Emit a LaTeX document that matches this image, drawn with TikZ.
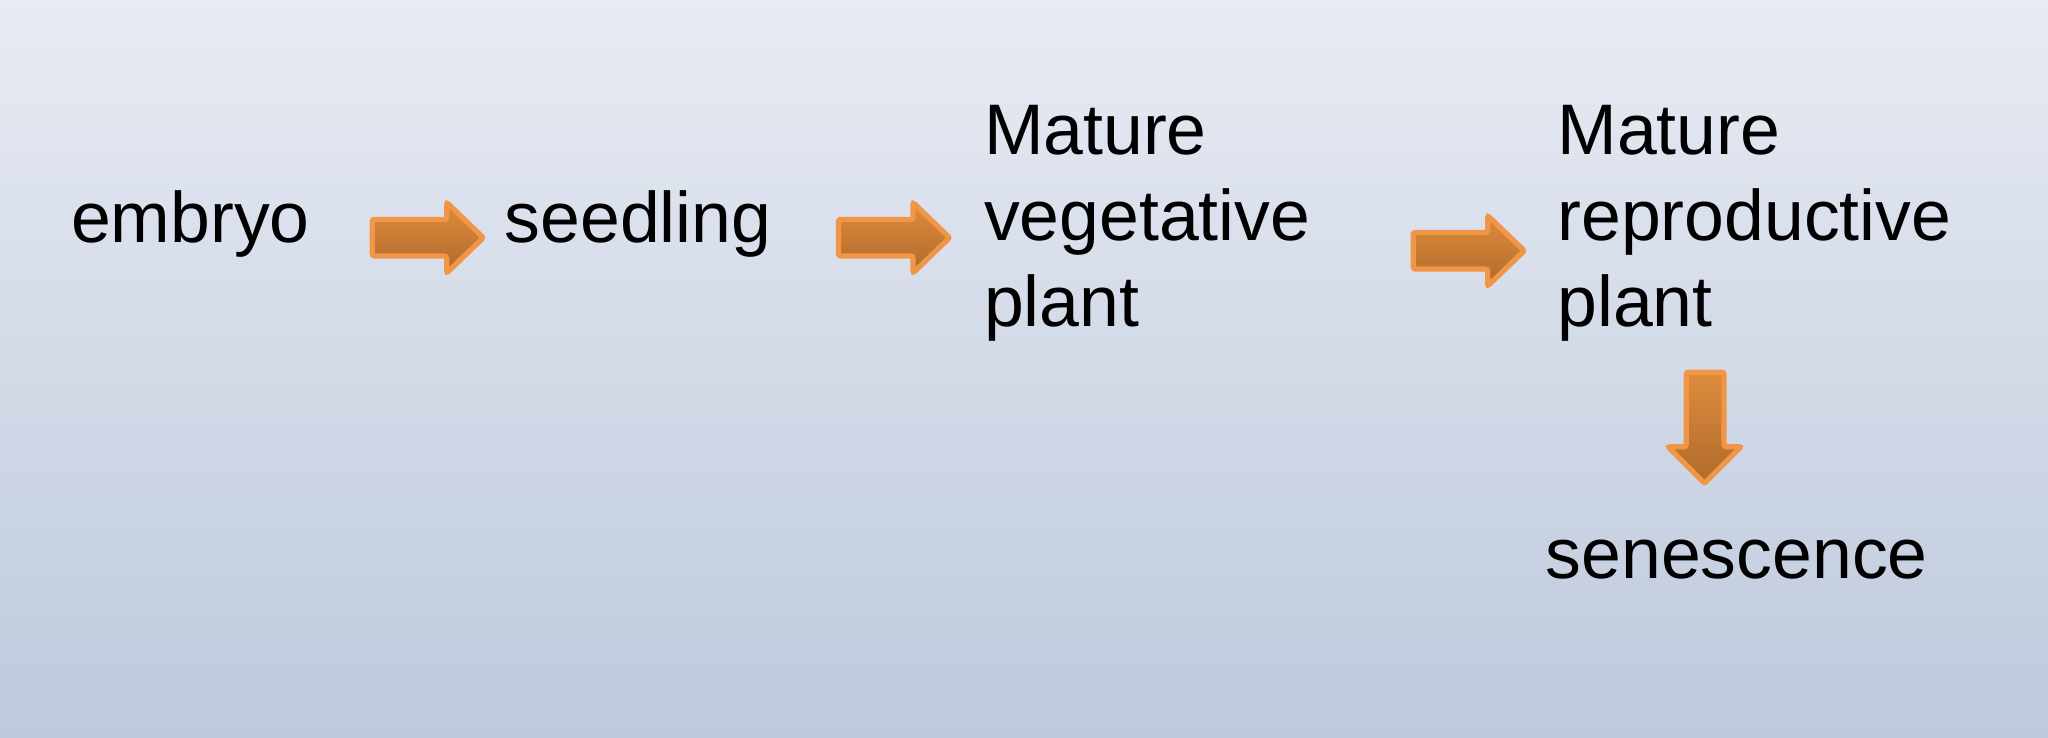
\documentclass[tikz,border=0pt]{standalone}
\usepackage{fontspec}
\setmainfont{Liberation Sans}
\begin{document}
\begin{tikzpicture}[x=0.5pt,y=-0.5pt,
  lbl/.style={anchor=base west,align=left,inner sep=0pt,font=\fontsize{27.4}{33}\selectfont},
  blockarrow/.style={draw={rgb,255:red,240;green,150;blue,70},line width=2pt,rounded corners=0.8pt,
    top color={rgb,255:red,222;green,140;blue,60},bottom color={rgb,255:red,176;green,106;blue,44}}]
\shade[top color={rgb,255:red,231;green,235;blue,243},bottom color={rgb,255:red,190;green,201;blue,220}] (0,0) rectangle (1568,565);
\useasboundingbox (0,0) rectangle (1568,565);
\node[lbl] (emb) at (54,186) {embryo};
\node[lbl] (seed) at (386,186) {seedling};
\node[lbl] (veg) at (753,250) {Mature\\vegetative\\plant};
\node[lbl] (rep) at (1192,250) {Mature\\reproductive\\plant};
\node[lbl] (sen) at (1183,443) {senescence};
\foreach \x/\y in {285/182,642/182,1082/192}{
  \shadedraw[blockarrow] (\x,\y-14) -- (\x+57,\y-14) -- (\x+57,\y-27) -- (\x+85,\y) -- (\x+57,\y+27) -- (\x+57,\y+14) -- (\x,\y+14) -- cycle;
}
\shadedraw[blockarrow] (1291,285) -- (1320,285) -- (1320,342) -- (1333,342) -- (1305,370) -- (1277,342) -- (1291,342) -- cycle;
\end{tikzpicture}
\end{document}
